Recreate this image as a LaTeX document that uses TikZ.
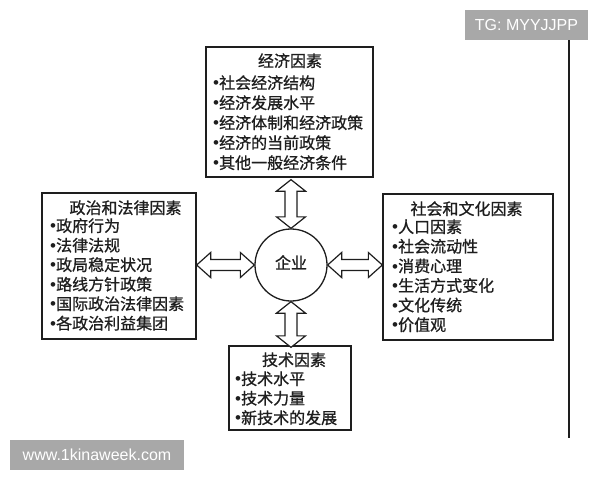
\documentclass[tikz,border=0pt]{standalone}
\usepackage{fontspec}
\setmainfont{Liberation Sans}
\newfontfamily\cjk[FakeBold=0.8]{Noto Sans CJK SC}
\newfontfamily\bulletfont{Liberation Sans}
\usetikzlibrary{calc}
\definecolor{ink}{HTML}{1E1E1E}
\definecolor{wmgray}{HTML}{A8A8A8}
\newcommand\bul{{\bulletfont\fontsize{17}{17}\selectfont •}}
\newcommand\vdarrow[2]{\path[arr] let \p1=(#1), \p2=(#2) in
  (\x1,\y1) -- (\x1+14.5pt,\y1-11.5pt) -- (\x1+6pt,\y1-11.5pt) -- (\x1+6pt,\y2+11.5pt) -- (\x1+14.5pt,\y2+11.5pt) -- (\x1,\y2)
  -- (\x1-14.5pt,\y2+11.5pt) -- (\x1-6pt,\y2+11.5pt) -- (\x1-6pt,\y1-11.5pt) -- (\x1-14.5pt,\y1-11.5pt) -- cycle;}
\newcommand\hdarrow[2]{\path[arr] let \p1=(#1), \p2=(#2) in
  (\x1,\y1) -- (\x1+14pt,\y1+12.5pt) -- (\x1+14pt,\y1+5.5pt) -- (\x2-14pt,\y1+5.5pt) -- (\x2-14pt,\y1+12.5pt) -- (\x2,\y1)
  -- (\x2-14pt,\y1-12.5pt) -- (\x2-14pt,\y1-5.5pt) -- (\x1+14pt,\y1-5.5pt) -- (\x1+14pt,\y1-12.5pt) -- cycle;}
\begin{document}
\begin{tikzpicture}[x=1pt,y=-1pt,
  box/.style={draw=ink, line width=1.3pt, inner sep=0pt, rectangle},
  ttl/.style={font=\cjk\fontsize{16}{16}\selectfont, text=ink, inner sep=0pt, text height=0.88em, text depth=0.12em},
  itm/.style={ttl, anchor=west},
  arr/.style={draw=ink, line width=1.2pt, fill=white, line join=miter},
  wm/.style={fill=wmgray, text=white, font=\fontsize{16}{16}\selectfont, inner sep=0pt}]
\fill[white] (0,0) rectangle (600,480);
\useasboundingbox (0,0) rectangle (600,480);

% watermarks and side line
\node[wm, minimum width=123pt, minimum height=30pt] (tg) at (526.5,25) {TG: MYYJJPP};
\node[wm, minimum width=174pt, minimum height=30pt] (www) at (97,455) {www.1kinaweek.com};
\coordinate (lineend) at (569,438);
\draw[ink, line width=1.3pt] (tg.south -| lineend) -- (lineend);

% boxes
\node[box, minimum width=167pt, minimum height=130pt] (econ) at (289.5,112) {};
\node[box, minimum width=154pt, minimum height=146pt] (pol) at (119,266) {};
\node[box, minimum width=170pt, minimum height=146pt] (soc) at (468,267) {};
\node[box, minimum width=122pt, minimum height=84pt] (tech) at (290,388) {};
\node[draw=ink, line width=1.3pt, circle, minimum size=72pt, inner sep=0pt] (ent) at (291,265) {};
\node[ttl] (entT) at (ent.center) {企业};

% titles
\node[ttl] (econT) at (290,63) {经济因素};
\node[ttl] (polT) at (125.5,210) {政治和法律因素};
\node[ttl] (socT) at (466.5,211) {社会和文化因素};
\node[ttl] (techT) at (294,362) {技术因素};

% items
\foreach \t [count=\i] in {社会经济结构,经济发展水平,经济体制和经济政策,经济的当前政策,其他一般经济条件}
  \node[itm] (econ-\i) at (213,{85+(\i-1)*20}) {\bul\t};
\foreach \t [count=\i] in {政府行为,法律法规,政局稳定状况,路线方针政策,国际政治法律因素,各政治利益集团}
  \node[itm] (pol-\i) at (50,{228+(\i-1)*19.5}) {\bul\t};
\foreach \t [count=\i] in {人口因素,社会流动性,消费心理,生活方式变化,文化传统,价值观}
  \node[itm] (soc-\i) at (392,{229+(\i-1)*19.6}) {\bul\t};
\foreach \t [count=\i] in {技术水平,技术力量,新技术的发展}
  \node[itm] (tech-\i) at (235,{381+(\i-1)*19.5}) {\bul\t};

% arrows
\vdarrow{$(econ.south -| ent.center)+(0,2)$}{ent.north}
\vdarrow{ent.south}{$(tech.north -| ent.center)+(0,2)$}
\hdarrow{pol.east |- ent.center}{ent.west}
\hdarrow{ent.east}{soc.west |- ent.center}
\end{tikzpicture}
\end{document}
